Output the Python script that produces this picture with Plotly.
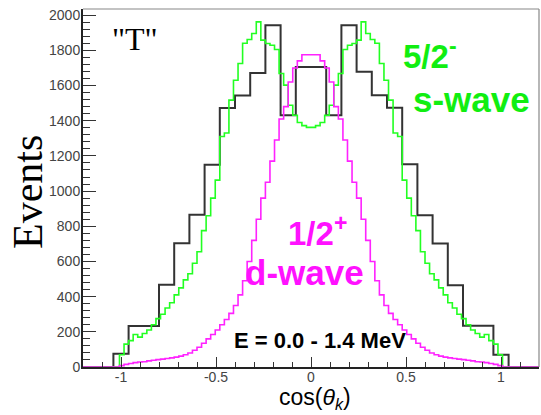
import numpy as np
import plotly.graph_objects as go

# ---------------- data ----------------
# fine histograms: 100 bins over [-1.2, 1.2]; non-zero bins start at bin 8 (-1.008)
fine_lo, fine_hi, fine_n = -1.2, 1.2, 100
fine_first = 8
green_vals = [70, 130, 150, 185, 170, 190, 210, 240, 275, 300, 335, 365, 410, 450,
              495, 530, 590, 655, 775, 860, 960, 1062, 1310, 1330, 1517, 1630, 1725,
              1840, 1862, 1896, 1962, 1858, 1839, 1829, 1805, 1668, 1602, 1488, 1431,
              1390, 1372, 1362,
              1362, 1372, 1390, 1431, 1488, 1602, 1668, 1805, 1829, 1839, 1858, 1962,
              1896, 1862, 1840, 1725, 1630, 1517, 1330, 1310, 1062, 960, 860, 775, 655,
              590, 530, 495, 450, 410, 365, 335, 300, 275, 240, 210, 190, 170, 185, 150,
              130, 70]
magenta_vals = [8, 15, 20, 25, 28, 30, 35, 38, 42, 45, 48, 52, 56, 62, 70, 80, 95,
                112, 135, 160, 185, 210, 240, 270, 305, 350, 410, 490, 600, 720, 840,
                960, 1050, 1170, 1290, 1410, 1480, 1620, 1700, 1740, 1775, 1775,
                1775, 1775, 1740, 1700, 1620, 1480, 1410, 1290, 1170, 1050, 960, 840,
                720, 600, 490, 410, 350, 305, 270, 240, 210, 185, 160, 135, 112, 95,
                80, 70, 62, 56, 52, 48, 45, 42, 38, 35, 30, 28, 25, 20, 15, 8]
# coarse histogram: 26 bins of 0.08 from -1.04 to 1.04
black_lo, black_hi = -1.04, 1.04
black_vals = [75, 233, 233, 467, 703, 865, 1150, 1472, 1544, 1671, 1943, 1431, 1706,
              1706, 1431, 1943, 1678, 1545, 1474, 1152, 863, 702, 465, 235, 235, 70]

x_ticks = [-1, -0.5, 0, 0.5, 1]
x_ticklabels = ["-1", "-0.5", "0", "0.5", "1"]
y_ticks = list(range(0, 2001, 200))

# ---------------- helpers ----------------
W, H = 541, 415
L, R, T, B = 83, 2, 9, 48
PW, PH = W - L - R, H - T - B


def px(xp):
    return (xp - L) / PW


def py(yp):
    return (H - B - yp) / PH


def fine_steps(vals):
    edges = np.linspace(fine_lo, fine_hi, fine_n + 1)
    full = np.zeros(fine_n)
    full[fine_first:fine_first + len(vals)] = vals
    xs = list(edges)
    ys = list(full) + [full[-1]]
    return xs, ys


def coarse_steps(vals):
    edges = np.linspace(black_lo, black_hi, len(vals) + 1)
    xs = [fine_lo] + list(edges) + [fine_hi]
    ys = [0] + list(vals) + [0, 0]
    return xs, ys


fig = go.Figure()
bx, by = coarse_steps(black_vals)
fig.add_trace(go.Scatter(x=bx, y=by, mode="lines", line=dict(color="#333333", width=2, shape="hv"),
                         hoverinfo="skip", showlegend=False))
gx, gy = fine_steps(green_vals)
fig.add_trace(go.Scatter(x=gx, y=gy, mode="lines", line=dict(color="#22ff22", width=1.6, shape="hv"),
                         hoverinfo="skip", showlegend=False))
mx, my = fine_steps(magenta_vals)
fig.add_trace(go.Scatter(x=mx, y=my, mode="lines", line=dict(color="#ff22ff", width=1.6, shape="hv"),
                         hoverinfo="skip", showlegend=False))

axis_font = dict(family="Arial, Liberation Sans, sans-serif", size=14, color="#444444")

fig.update_layout(
    width=W, height=H,
    margin=dict(l=L, r=R, t=T, b=B),
    paper_bgcolor="white", plot_bgcolor="white",
    xaxis=dict(range=[fine_lo, fine_hi], tickmode="array", tickvals=x_ticks, ticktext=x_ticklabels,
               ticks="inside", ticklen=10, tickwidth=1.2, tickcolor="#333333",
               showline=True, linecolor="#222222", linewidth=2, showgrid=False, zeroline=False,
               tickfont=axis_font, ticklabelstandoff=-4,
               minor=dict(dtick=0.1, tick0=0, ticks="inside", ticklen=5, tickwidth=1.2, tickcolor="#333333",
                          showgrid=False)),
    yaxis=dict(range=[0, 2035], tickmode="array", tickvals=y_ticks,
               ticks="inside", ticklen=13, tickwidth=1.4, tickcolor="#333333",
               showline=True, linecolor="#222222", linewidth=2, showgrid=False, zeroline=False,
               tickfont=axis_font, ticklabelstandoff=-2,
               minor=dict(dtick=40, tick0=0, ticks="inside", ticklen=7, tickwidth=1.2, tickcolor="#333333",
                          showgrid=False)),
)

# frame (top / right)
fig.add_shape(type="line", xref="paper", yref="paper", x0=0, x1=1, y0=1, y1=1,
              line=dict(color="#888888", width=1.2))
fig.add_shape(type="line", xref="paper", yref="paper", x0=1, x1=1, y0=0, y1=1,
              line=dict(color="#888888", width=1.2))

sans_b = "Arial, Liberation Sans, sans-serif"
serif = "Times New Roman, Liberation Serif, serif"


def ann(text, xp, yp, size, color, family, xanchor="center", yanchor="middle", angle=0):
    fig.add_annotation(text=text, x=px(xp), y=py(yp), xref="paper", yref="paper",
                       xanchor=xanchor, yanchor=yanchor, showarrow=False, textangle=angle,
                       font=dict(size=size, color=color, family=family))


ann('"T"', 135, 39, 32, "black", serif)
ann("<b>5/2<sup>-</sup></b>", 401, 54, 33, "#11ee11", sans_b, xanchor="left")
ann("<b>s-wave</b>", 411, 99, 35, "#11ee11", sans_b, xanchor="left")
ann("<b>1/2<sup>+</sup></b>", 286, 231, 33, "#ff11ff", sans_b, xanchor="left")
ann("<b>d-wave</b>", 243, 272, 35, "#ff11ff", sans_b, xanchor="left")
ann("<b>E = 0.0 - 1.4 MeV</b>", 320, 340, 22, "black", sans_b)
ann("Events", 28, 192, 42, "black", serif, angle=-90)
ann("cos(<i>θ</i><sub><i>k</i></sub>)", 315, 398, 23, "black", sans_b)

fig.write_html("out.html")
